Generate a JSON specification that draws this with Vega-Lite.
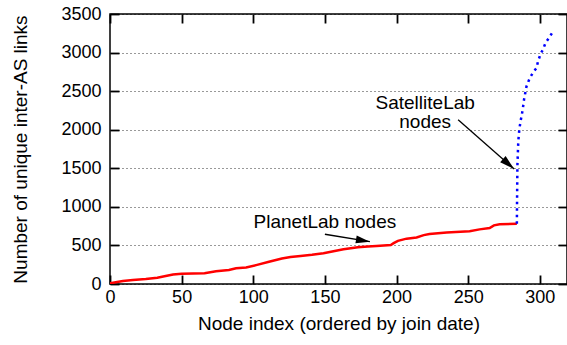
{
  "$schema": "https://vega.github.io/schema/vega-lite/v6.json",
  "width": 457,
  "height": 270,
  "autosize": {"type": "none"},
  "padding": {"left": 110, "top": 14, "right": 0, "bottom": 61},
  "background": "white",
  "config": {
    "font": "Liberation Sans",
    "view": {"stroke": "black", "strokeWidth": 1.5},
    "axis": {
      "domain": false,
      "tickColor": "black",
      "tickWidth": 1.8,
      "tickSize": -9,
      "labelFont": "Liberation Sans",
      "labelFontSize": 18,
      "labelColor": "black",
      "titleFont": "Liberation Sans",
      "titleFontSize": 19,
      "titleFontWeight": "normal",
      "titleColor": "black"
    }
  },
  "datasets": {
    "planetlab": [
      {"node": 0, "links": 8}, {"node": 5, "links": 25}, {"node": 9, "links": 40},
      {"node": 16, "links": 52}, {"node": 25, "links": 65}, {"node": 33, "links": 82},
      {"node": 38, "links": 100}, {"node": 44, "links": 124}, {"node": 50, "links": 132},
      {"node": 58, "links": 135}, {"node": 66, "links": 139}, {"node": 74, "links": 165},
      {"node": 83, "links": 182}, {"node": 88, "links": 205}, {"node": 95, "links": 214},
      {"node": 102, "links": 245}, {"node": 111, "links": 288}, {"node": 120, "links": 330},
      {"node": 126, "links": 350}, {"node": 133, "links": 364}, {"node": 141, "links": 380},
      {"node": 149, "links": 400}, {"node": 156, "links": 425}, {"node": 163, "links": 450},
      {"node": 173, "links": 475}, {"node": 180, "links": 485}, {"node": 186, "links": 494},
      {"node": 196, "links": 505}, {"node": 198, "links": 530}, {"node": 201, "links": 560},
      {"node": 207, "links": 588}, {"node": 214, "links": 604}, {"node": 219, "links": 634},
      {"node": 223, "links": 648}, {"node": 235, "links": 668}, {"node": 251, "links": 684},
      {"node": 258, "links": 708}, {"node": 265, "links": 725}, {"node": 268, "links": 760},
      {"node": 272, "links": 775}, {"node": 284, "links": 780}
    ],
    "satellitelab": [
      {"node": 284, "links": 780}, {"node": 284.2, "links": 1200}, {"node": 284.4, "links": 1550},
      {"node": 285, "links": 1850}, {"node": 285.7, "links": 2000}, {"node": 286.5, "links": 2100},
      {"node": 288, "links": 2250}, {"node": 289, "links": 2390}, {"node": 290.7, "links": 2560},
      {"node": 293, "links": 2670}, {"node": 295.3, "links": 2740}, {"node": 297.7, "links": 2800},
      {"node": 298.8, "links": 2887}, {"node": 300.7, "links": 2990}, {"node": 302.3, "links": 3040},
      {"node": 304, "links": 3126}, {"node": 306.5, "links": 3190}, {"node": 309, "links": 3268}
    ],
    "labels": [
      {"x": 150, "y": 727, "label": "PlanetLab nodes"},
      {"x": 220, "y": 2273, "label": "SatelliteLab"},
      {"x": 220, "y": 2026, "label": "nodes"}
    ],
    "arrows": [
      {"name": "PlanetLab", "x": 150, "y": 645, "x2": 181.4, "y2": 549},
      {"name": "SatelliteLab", "x": 243, "y": 2130, "x2": 282.1, "y2": 1490}
    ]
  },
  "layer": [
    {
      "data": {"name": "planetlab"},
      "mark": {"type": "line", "color": "#ff0000", "strokeWidth": 2.5, "clip": true},
      "encoding": {
        "x": {
          "field": "node", "type": "quantitative",
          "scale": {"domain": [0, 319], "nice": false, "zero": false},
          "axis": {
            "orient": "bottom", "values": [0, 50, 100, 150, 200, 250, 300],
            "grid": false, "labelPadding": 13, "labelFlush": false, "format": "d",
            "title": "Node index (ordered by join date)", "titlePadding": 8
          }
        },
        "y": {
          "field": "links", "type": "quantitative",
          "scale": {"domain": [0, 3500], "nice": false},
          "axis": {
            "orient": "left", "values": [0, 500, 1000, 1500, 2000, 2500, 3000, 3500],
            "grid": true, "gridColor": "black", "gridDash": [1, 3], "gridWidth": 1, "gridOpacity": 0.8,
            "labelPadding": 18, "labelFlush": false, "format": "d",
            "title": "Number of unique inter-AS links", "titlePadding": 30
          }
        }
      }
    },
    {
      "data": {"name": "satellitelab"},
      "mark": {"type": "line", "color": "#0000ff", "strokeWidth": 2.5, "strokeDash": [2.5, 4], "strokeCap": "butt", "clip": true},
      "encoding": {
        "x": {
          "field": "node", "type": "quantitative",
          "axis": {"orient": "top", "values": [0, 50, 100, 150, 200, 250, 300], "labels": false, "grid": false, "title": null}
        },
        "y": {
          "field": "links", "type": "quantitative",
          "axis": {"orient": "right", "values": [0, 500, 1000, 1500, 2000, 2500, 3000, 3500], "labels": false, "grid": false, "title": null}
        }
      }
    },
    {
      "data": {"name": "arrows"},
      "mark": {"type": "rule", "color": "black", "strokeWidth": 1.3},
      "encoding": {
        "x": {"field": "x", "type": "quantitative", "axis": null},
        "y": {"field": "y", "type": "quantitative", "axis": null},
        "x2": {"field": "x2"},
        "y2": {"field": "y2"}
      }
    },
    {
      "data": {"name": "arrows"},
      "transform": [{"filter": "datum.name == 'PlanetLab'"}],
      "mark": {"type": "point", "shape": "M0,0 L-2,-0.55 L-2,0.55 Z", "filled": true, "color": "black", "opacity": 1, "size": 196, "angle": 9.5},
      "encoding": {
        "x": {"field": "x2", "type": "quantitative", "axis": null},
        "y": {"field": "y2", "type": "quantitative", "axis": null}
      }
    },
    {
      "data": {"name": "arrows"},
      "transform": [{"filter": "datum.name == 'SatelliteLab'"}],
      "mark": {"type": "point", "shape": "M0,0 L-2,-0.55 L-2,0.55 Z", "filled": true, "color": "black", "opacity": 1, "size": 225, "angle": 41.4},
      "encoding": {
        "x": {"field": "x2", "type": "quantitative", "axis": null},
        "y": {"field": "y2", "type": "quantitative", "axis": null}
      }
    },
    {
      "data": {"name": "labels"},
      "mark": {"type": "text", "font": "Liberation Sans", "fontSize": 19, "align": "center", "baseline": "alphabetic", "color": "black"},
      "encoding": {
        "x": {"field": "x", "type": "quantitative", "axis": null},
        "y": {"field": "y", "type": "quantitative", "axis": null},
        "text": {"field": "label"}
      }
    }
  ],
  "resolve": {"axis": {"x": "independent", "y": "independent"}}
}
